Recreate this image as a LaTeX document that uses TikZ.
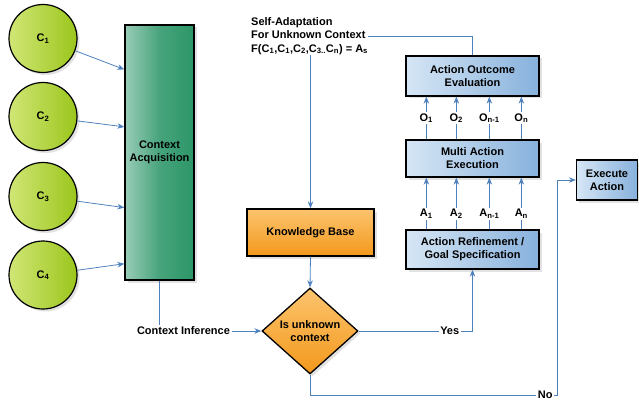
\documentclass[tikz,border=0pt]{standalone}
\usepackage{fontspec}
\setmainfont{Liberation Sans}
\usetikzlibrary{shapes.geometric, arrows.meta, positioning, shadows, calc}

\definecolor{linkblue}{RGB}{79,129,189}
\definecolor{ctxlight}{RGB}{222,238,140}
\definecolor{ctxdark}{RGB}{155,198,28}
\definecolor{acqlight}{RGB}{225,240,236}
\definecolor{acqdark}{RGB}{44,150,104}
\definecolor{boxlight}{RGB}{214,230,245}
\definecolor{boxdark}{RGB}{135,177,220}
\definecolor{kblight}{RGB}{252,196,110}
\definecolor{kbdark}{RGB}{243,152,28}

\tikzset{
    softshadow/.style={drop shadow={shadow xshift=2.5pt, shadow yshift=-2.5pt, fill=black!25, opacity=0.45}},
    ctx/.style={draw=black, circle, line width=1.2pt, minimum size=68pt, inner sep=0pt, left color=ctxlight!80!ctxdark, right color=ctxdark, softshadow, font=\fontsize{11}{13}\selectfont\bfseries},
    acquire/.style={draw=black, rectangle, line width=1.3pt, minimum width=69pt, minimum height=255pt, align=center, left color=acqdark!40!acqlight, right color=acqdark, middle color=acqdark!85!acqlight, softshadow, font=\fontsize{11}{13}\selectfont\bfseries},
    process/.style={draw=black, rectangle, line width=1.3pt, minimum width=133pt, minimum height=39pt, align=center, left color=boxlight, right color=boxdark, softshadow, font=\fontsize{11}{13}\selectfont\bfseries},
    knowledge/.style={draw=black, rectangle, line width=1.3pt, minimum width=127pt, minimum height=47pt, align=center, top color=kblight, bottom color=kbdark, softshadow, font=\fontsize{11}{13}\selectfont\bfseries},
    decision/.style={draw=black, diamond, aspect=1.1, line width=1.3pt, minimum width=96pt, minimum height=86pt, inner sep=0pt, align=center, top color=kblight, bottom color=kbdark, softshadow, font=\fontsize{11}{13}\selectfont\bfseries},
    arrow/.style={-{Stealth[length=7pt, width=5.5pt]}, line width=0.8pt, draw=linkblue},
    link/.style={line width=0.8pt, draw=linkblue},
    lbl/.style={fill=white, inner sep=1.5pt, font=\fontsize{11}{13}\selectfont\bfseries}
}

\begin{document}
\begin{tikzpicture}[x=1pt, y=-1pt]

        \useasboundingbox (0,0) rectangle (639,401);

        % Contesti in ingresso
        \node (c1) [ctx] at (43,38.5) {C\textsubscript{1}};
        \node (c2) [ctx] at (43,116.5) {C\textsubscript{2}};
        \node (c3) [ctx] at (43,196.5) {C\textsubscript{3}};
        \node (c4) [ctx] at (43,275) {C\textsubscript{4}};

        \node (acq) [acquire] at (159.5,152.5) {Context\\Acquisition};

        % Base di conoscenza e decisione
        \node (adapt) [align=left, anchor=west, inner sep=0pt, font=\fontsize{11}{13.5}\selectfont\bfseries] at (251,36) {Self-Adaptation\\For Unknown Context\\F(C\textsubscript{1},C\textsubscript{1},C\textsubscript{2},C\textsubscript{3..}C\textsubscript{n}) = A\textsubscript{s}};
        \node (kb) [knowledge] at (310.5,232.5) {Knowledge Base};
        \node (dec) [decision] at (310,331) {Is unknown\\context};
        \node (ctxinf) [lbl] at (183.5,331) {Context Inference};

        % Catena delle azioni
        \node (aoe) [process, minimum height=40pt] at (472.5,76) {Action Outcome\\Evaluation};
        \node (mae) [process, minimum height=37pt] at (472.5,158.5) {Multi Action\\Execution};
        \node (arf) [process] at (472.5,249.5) {Action Refinement /\\Goal Specification};
        \node (exa) [process, minimum width=61pt, minimum height=40pt] at (607,180) {Execute\\Action};

        \coordinate (nocorner) at (557,395);

        % Connessioni
        \foreach \i/\f in {1/0.176, 2/0.40, 3/0.715, 4/0.934}
            \draw [arrow] (c\i) -- ($(acq.north west)!\f!(acq.south west)$);

        \draw [link] (acq.south) -- (acq.south |- ctxinf.north);
        \draw [arrow] (ctxinf.east) -- (dec.west);
        \draw [link] (adapt.east) -| (aoe.north);
        \draw [arrow] (adapt.south -| kb.north) -- (kb.north);
        \draw [arrow] (kb.south) -- (dec.north);
        \draw [arrow] (dec.east) -| node [lbl, pos=0.4] {Yes} (arf.south);
        \draw [arrow] (dec.south) |- node [lbl, pos=0.976] {No} (nocorner) |- (exa.west);

        \foreach \dx/\sub in {21/1, 51/2, 84/{n-1}, 116/n} {
            \draw [arrow] ([xshift=\dx pt]mae.north west) -- node [lbl] {O\textsubscript{\sub}} ([xshift=\dx pt]aoe.south west);
            \draw [arrow] ([xshift=\dx pt]arf.north west) -- node [lbl, pos=0.3] {A\textsubscript{\sub}} ([xshift=\dx pt]mae.south west);
        }

    \end{tikzpicture}
\end{document}
